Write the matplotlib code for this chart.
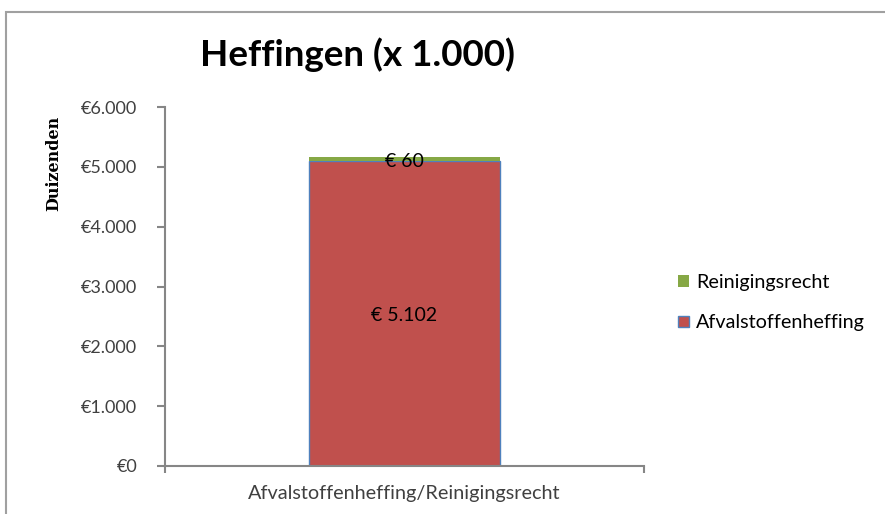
import matplotlib.pyplot as plt
from matplotlib.patches import Rectangle

plt.rcParams['font.family'] = ['Lato', 'DejaVu Sans']

# Heffingen in duizenden euro's
category = ["Afvalstoffenheffing/Reinigingsrecht"]
afvalstoffenheffing = [5102]
reinigingsrecht = [60]
y_ticks = [0, 1000, 2000, 3000, 4000, 5000, 6000]
y_labels = ["€0", "€1.000", "€2.000", "€3.000", "€4.000", "€5.000", "€6.000"]

red = "#C0504D"
green = "#86A845"
blue = "#4F81BD"
grey = "#868686"
txt = "#404040"

fig = plt.figure(figsize=(8.85, 5.14), dpi=100)

# outer chart frame, runs off the right and bottom edges
fig.patches.append(Rectangle((6 / 885, -0.1), 1.2, 1 - 12 / 514 + 0.1,
                             transform=fig.transFigure, fill=False,
                             edgecolor="#A0A0A0", lw=1.5))

ax = fig.add_axes([165 / 885, 48 / 514, 479 / 885, 359 / 514])

x = list(range(len(category)))
b1 = ax.bar(x, afvalstoffenheffing, width=0.4, color=red, edgecolor=blue,
            lw=1, label="Afvalstoffenheffing")
b2 = ax.bar(x, reinigingsrecht, width=0.4, bottom=afvalstoffenheffing,
            color=green, lw=0, label="Reinigingsrecht")

# value labels in the middle of each segment
for i in x:
    ax.text(i, afvalstoffenheffing[i] / 2 - 30,
            f"€ {afvalstoffenheffing[i]:,}".replace(",", "."),
            ha="center", va="center", fontsize=14, color="black")
    ax.text(i, afvalstoffenheffing[i] + reinigingsrecht[i] / 2 - 50,
            f"€ {reinigingsrecht[i]}", ha="center", va="center",
            fontsize=14, color="black")

ax.set_xlim(-0.5, 0.5)
ax.set_ylim(0, 6000)
ax.set_yticks(y_ticks)
ax.set_yticklabels(y_labels, fontsize=13, color=txt)
ax.set_xticks(x)
ax.set_xticklabels(category, fontsize=14.3, color=txt)
ax.set_xticks([-0.5, 0.5], minor=True)
ax.tick_params(axis="x", which="major", length=0, pad=14)
ax.tick_params(axis="x", which="minor", length=5, width=1.5, color=grey)
ax.tick_params(axis="y", length=6, width=1.5, color=grey, pad=14)

for s in ("top", "right"):
    ax.spines[s].set_visible(False)
for s in ("left", "bottom"):
    ax.spines[s].set_color(grey)
    ax.spines[s].set_linewidth(1.5)

ax.set_ylabel("Duizenden", family="DejaVu Serif", fontweight="bold",
              fontsize=11.5, labelpad=0)
ax.yaxis.set_label_coords(-0.215, 0.844)

fig.text(357 / 885, 1 - 55 / 514, "Heffingen (x 1.000)", ha="center",
         va="center", fontsize=26.5, fontweight="bold")

ax.legend(handles=[b2, b1], loc="center left", bbox_to_anchor=(1.034, 0.455),
          frameon=False, fontsize=14.2, handlelength=0.55, handleheight=0.55,
          handletextpad=0.35, labelspacing=1.2)

fig.savefig("out.png", dpi=100)
